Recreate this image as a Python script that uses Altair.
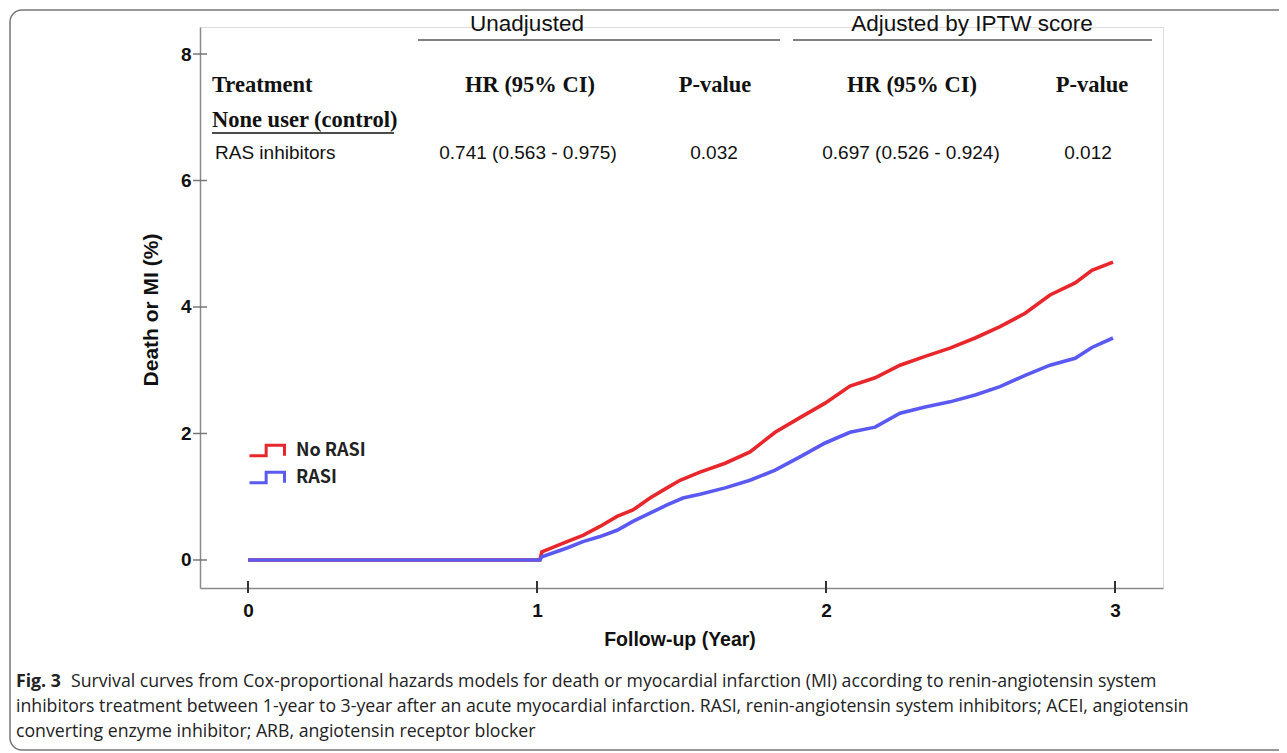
import altair as alt
import pandas as pd

# ---------------- data ----------------
years_red = [0, 1.01, 1.017, 1.104, 1.159, 1.218, 1.277, 1.332, 1.391, 1.45, 1.495, 1.564,
             1.651, 1.737, 1.824, 1.91, 1.997, 2.083, 2.17, 2.256, 2.343, 2.429, 2.516,
             2.602, 2.689, 2.775, 2.862, 2.92, 2.993]
vals_red = [0, 0, 0.13, 0.29, 0.39, 0.53, 0.69, 0.79, 0.98, 1.14, 1.26, 1.39,
            1.53, 1.71, 2.02, 2.25, 2.48, 2.75, 2.88, 3.08, 3.22, 3.35, 3.51,
            3.69, 3.90, 4.19, 4.38, 4.58, 4.71]
years_blue = [0, 1.01, 1.017, 1.104, 1.159, 1.218, 1.277, 1.332, 1.391, 1.45, 1.505, 1.564,
              1.651, 1.737, 1.824, 1.91, 1.997, 2.083, 2.17, 2.256, 2.343, 2.429, 2.516,
              2.602, 2.689, 2.775, 2.862, 2.92, 2.993]
vals_blue = [0, 0, 0.05, 0.19, 0.29, 0.37, 0.47, 0.61, 0.74, 0.87, 0.98, 1.04,
             1.14, 1.26, 1.42, 1.63, 1.85, 2.02, 2.10, 2.32, 2.42, 2.50, 2.61,
             2.74, 2.92, 3.08, 3.19, 3.36, 3.51]
groups = ["No RASI", "RASI"]
colors = ["#e8272d", "#5a5af2"]
x_ticks = [0, 1, 2, 3]
y_ticks = [0, 2, 4, 6, 8]

df = pd.concat([
    pd.DataFrame({"year": years_red, "pct": vals_red, "group": groups[0], "ord": range(len(years_red))}),
    pd.DataFrame({"year": years_blue, "pct": vals_blue, "group": groups[1], "ord": range(len(years_blue))}),
])

W, H = 963, 561
XDOM = [-0.166, 3.166]
YDOM = [-0.443, 8.427]

xs = alt.Scale(domain=XDOM, nice=False, zero=False)
ys = alt.Scale(domain=YDOM, nice=False, zero=False)

AXC = "#8a8a8a"

lines = alt.Chart(df).mark_line(strokeWidth=3.6, interpolate="linear").encode(
    x=alt.X("year:Q", scale=xs,
            axis=alt.Axis(values=x_ticks, format="d", title=None, ticks=False, labelPadding=13,
                          labelFont="Liberation Sans", labelFontWeight="bold", labelFontSize=19,
                          labelColor="#111", domainColor=AXC, domainWidth=1.5, grid=False)),
    y=alt.Y("pct:Q", scale=ys,
            axis=alt.Axis(values=y_ticks, format="d", title=None, ticks=False, labelPadding=9,
                          labelFont="Liberation Sans", labelFontWeight="bold", labelFontSize=19,
                          labelColor="#111", domainColor=AXC, domainWidth=1.5, grid=False)),
    color=alt.Color("group:N", scale=alt.Scale(domain=groups, range=colors),
                    legend=alt.Legend(title=None, orient="none", legendX=51.5, legendY=408,
                                      symbolType="M-1.25,0.38H-0.06V-0.38H1.25V0.38",
                                      symbolSize=784, symbolStrokeWidth=3,
                                      labelFont="Noto Sans CJK KR", labelFontWeight="bold",
                                      labelFontSize=18, labelColor="#222",
                                      rowPadding=0, labelOffset=13.5)),
    order="ord:Q",
)

ytick_df = pd.DataFrame({"v": y_ticks})
xtick_df = pd.DataFrame({"v": x_ticks})
yt = alt.Chart(ytick_df).mark_rule(color="#777", strokeWidth=1.5).encode(
    y=alt.Y("v:Q", scale=ys), x=alt.value(-7), x2=alt.value(7))
xt = alt.Chart(xtick_df).mark_rule(color="#333", strokeWidth=2).encode(
    x=alt.X("v:Q", scale=xs), y=alt.value(H - 7), y2=alt.value(H + 5))

dummy = pd.DataFrame({"a": [0]})


def txt(s, x, y, font="Liberation Sans", size=18, weight="normal", align="center",
        angle=0, color="#111"):
    return alt.Chart(dummy).mark_text(text=s, font=font, fontSize=size, fontWeight=weight,
                                      align=align, baseline="middle", angle=angle,
                                      color=color).encode(x=alt.value(x), y=alt.value(y))


def rule(x1, x2, y, color="#555", w=1.3):
    return alt.Chart(dummy).mark_rule(color=color, strokeWidth=w).encode(
        x=alt.value(x1), x2=alt.value(x2), y=alt.value(y))


SERIF = "Liberation Serif"
HS = 22.5
table = [
    txt("Unadjusted", 327, -3, size=22.5),
    rule(218, 580, 13),
    txt("Adjusted by IPTW score", 772, -3, size=22.5),
    rule(593, 952, 13),
    txt("Treatment", 12, 58, font=SERIF, size=HS, weight="bold", align="left"),
    txt("HR (95% CI)", 330, 58, font=SERIF, size=HS, weight="bold"),
    txt("P-value", 515, 58, font=SERIF, size=HS, weight="bold"),
    txt("HR (95% CI)", 712, 58, font=SERIF, size=HS, weight="bold"),
    txt("P-value", 892, 58, font=SERIF, size=HS, weight="bold"),
    txt("None user (control)", 12, 93, font=SERIF, size=HS, weight="bold", align="left"),
    rule(12, 194, 106, color="#111", w=1.5),
    txt("RAS inhibitors", 15, 126, size=19, align="left"),
    txt("0.741 (0.563 - 0.975)", 328, 126, size=19),
    txt("0.032", 514, 126, size=19),
    txt("0.697 (0.526 - 0.924)", 711, 126, size=19),
    txt("0.012", 888, 126, size=19),
]

titles = [
    txt("Death or MI (%)", -48, 283, size=21, weight="bold", angle=270),
    txt("Follow-up (Year)", 480, 613, size=19.5, weight="bold"),
]

CAPF = "Open Sans"
CS = 17.7
caption = [
    txt("Fig. 3", -184, 655, font=CAPF, size=CS, weight="bold", align="left", color="#222"),
    txt("Survival curves from Cox-proportional hazards models for death or myocardial infarction (MI) according to renin-angiotensin system",
        -129, 655, font=CAPF, size=CS, align="left", color="#222"),
    txt("inhibitors treatment between 1-year to 3-year after an acute myocardial infarction. RASI, renin-angiotensin system inhibitors; ACEI, angiotensin",
        -184, 680, font=CAPF, size=CS, align="left", color="#222"),
    txt("converting enzyme inhibitor; ARB, angiotensin receptor blocker",
        -184, 705, font=CAPF, size=CS, align="left", color="#222"),
]

# figure frame: rounded corners, right side runs off the page
border = alt.Chart(dummy).mark_rect(fill="transparent", stroke="#777", strokeWidth=1.5,
                                    cornerRadius=12).encode(
    x=alt.value(-190), x2=alt.value(1300), y=alt.value(-17), y2=alt.value(723))

chart = alt.layer(border, lines, yt, xt, *table, *titles, *caption).properties(
    width=W, height=H,
    padding={"left": 192, "top": 19, "right": 116, "bottom": 165},
    autosize=alt.AutoSizeParams(type="none"),
).configure_view(stroke=None).configure(background="white")

chart.save("out.html", embed_options={"renderer": "svg", "actions": False})
